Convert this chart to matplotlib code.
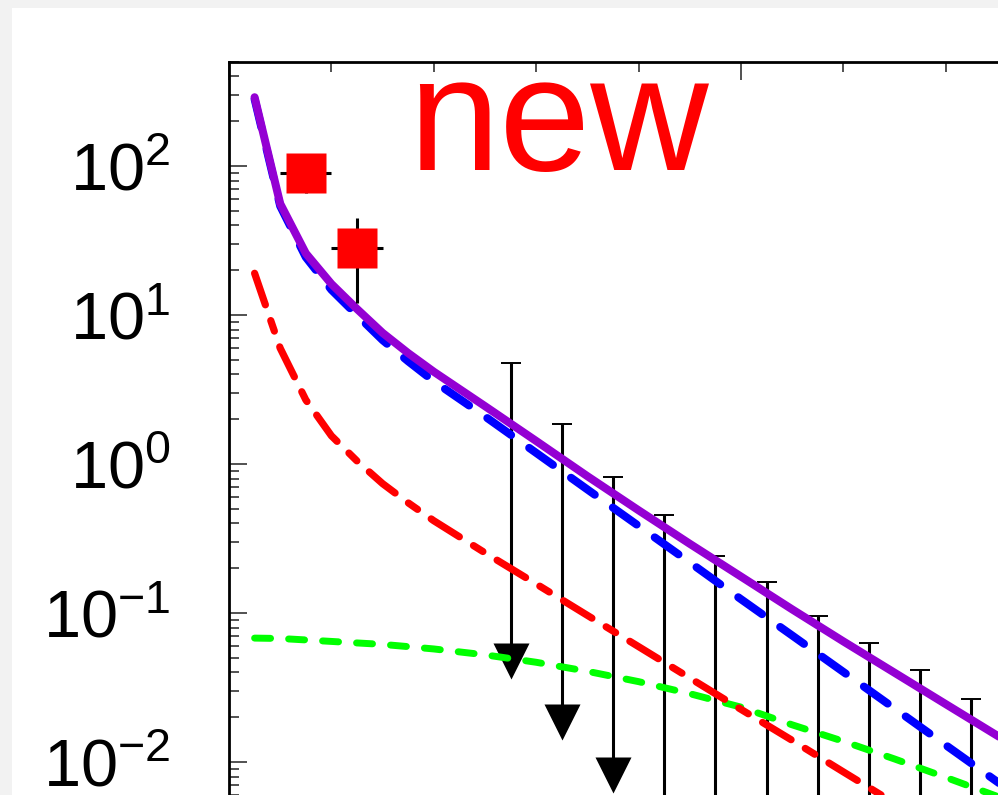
import matplotlib
matplotlib.use("Agg")
from matplotlib import pyplot as plt
from matplotlib.patches import Rectangle
from matplotlib.ticker import LogLocator, MultipleLocator, NullFormatter
import numpy as np

plt.rcParams['font.family'] = ['Liberation Sans', 'DejaVu Sans']
plt.rcParams['mathtext.fontset'] = 'custom'
plt.rcParams['mathtext.rm'] = 'Liberation Sans'
plt.rcParams['mathtext.it'] = 'Liberation Sans:italic'
plt.rcParams['lines.scale_dashes'] = False

# model curves (x, y)
curve_x = [0.25, 0.5, 0.75, 1.0, 1.25, 1.5, 1.75, 2.0, 2.5, 3.0, 3.5, 4.0,
           4.5, 5.0, 5.5, 6.0, 6.5, 7.0, 7.5, 8.0]
total = [290, 56, 26, 16.2, 11.0, 7.6, 5.56, 4.17, 2.45, 1.43, 0.83, 0.49,
         0.292, 0.176, 0.106, 0.0646, 0.0398, 0.0245, 0.0151, 0.0093]
blue = [282, 54, 24.5, 14.8, 10.0, 6.8, 4.9, 3.6, 2.09, 1.19, 0.676, 0.385,
        0.219, 0.124, 0.0708, 0.0403, 0.0229, 0.0130, 0.0074, 0.0042]
red = [19.1, 6.0, 2.7, 1.55, 1.05, 0.74, 0.55, 0.417, 0.254, 0.157, 0.0966,
       0.0596, 0.0367, 0.0226, 0.0140, 0.0086, 0.0053, 0.00327, 0.00202, 0.00124]
green = [0.068, 0.0676, 0.0661, 0.0646, 0.0631, 0.0617, 0.0596, 0.0575,
         0.0525, 0.0468, 0.0407, 0.0347, 0.0288, 0.0234, 0.0178, 0.0138,
         0.0105, 0.0079, 0.0059, 0.0044]

# measured points
pts_x = [0.75, 1.25]
pts_y = [90, 28.4]
pts_yerr = [24, 16.3]
pts_xerr = [0.25, 0.25]

# upper limits
ul_x = [2.75, 3.25, 3.75, 4.25, 4.75, 5.25, 5.75, 6.25, 6.75, 7.25]
ul_top = [4.76, 1.86, 0.818, 0.455, 0.241, 0.161, 0.0955, 0.0629, 0.0414, 0.0265]
ul_drop = 0.01  # arrow length: two decades

W, H = 998, 795
fig = plt.figure(figsize=(W / 100, H / 100), dpi=100, facecolor='#f2f2f2')
fig.patches.append(Rectangle((12 / W, 0), 1, 1 - 8 / H, transform=fig.transFigure,
                             facecolor='white', edgecolor='none', zorder=-10))

# axes: left spine at x=229 px, top at y=62 px; the rest runs off the picture
xmin, xmax = 0, 10
ymin, ymax = 2e-3, 500
px_per_x = 102.4
px_per_dec = 149
ax_w = (xmax - xmin) * px_per_x
ax_h = (np.log10(ymax) - np.log10(ymin)) * px_per_dec
ax = fig.add_axes([229 / W, 1 - (62 + ax_h) / H, ax_w / W, ax_h / H])
ax.set_facecolor('none')
ax.set_yscale('log')
ax.set_xlim(xmin, xmax)
ax.set_ylim(ymin, ymax)

ul_bot = [v * ul_drop for v in ul_top]
ax.vlines(ul_x, ul_bot, ul_top, color='black', lw=2.2, zorder=2)
ax.plot(ul_x, ul_top, linestyle='none', marker='_', ms=14, mew=1.4,
        color='black', zorder=2)
ax.plot(ul_x, ul_bot, linestyle='none', marker='v', ms=25.5, color='black',
        mec='none', zorder=2)

ax.plot(curve_x, green, color='#00ff00', lw=5, linestyle=(0, (11.5, 13)),
        dash_capstyle='round', zorder=3)
ax.plot(curve_x, red, color='#ff0000', lw=5.2, linestyle=(0, (24, 12, 8, 12)),
        dash_capstyle='round', zorder=3)
ax.plot(curve_x, blue, color='#0000ff', lw=5.8, linestyle=(0, (21, 16)),
        dash_capstyle='round', zorder=3)
ax.plot(curve_x, total, color='#9400d3', lw=5.8, solid_capstyle='round',
        solid_joinstyle='round', zorder=4)

ax.errorbar(pts_x, pts_y, yerr=pts_yerr, xerr=pts_xerr, fmt='none',
            ecolor='black', elinewidth=2.2, capsize=0, zorder=5)
ax.plot(pts_x, pts_y, linestyle='none', marker='s', ms=29.5, color='#ff0000',
        mec='none', zorder=6)

for side in ax.spines.values():
    side.set_linewidth(2)
ax.xaxis.set_major_locator(MultipleLocator(5))
ax.xaxis.set_minor_locator(MultipleLocator(1))
ax.yaxis.set_major_locator(LogLocator(base=10, numticks=20))
ax.yaxis.set_minor_locator(LogLocator(base=10, subs=np.arange(2, 10), numticks=20))
ax.yaxis.set_minor_formatter(NullFormatter())
ax.tick_params(which='both', direction='in', top=True, right=True, width=1.1,
               color='#222222', labelbottom=False)
ax.tick_params(which='major', length=13)
ax.tick_params(which='minor', length=7)
ax.tick_params(axis='y', which='major', labelsize=48, pad=42)

fig.text(408 / W, 1 - 170 / H, 'new', color='#ff0000', fontsize=118,
         va='baseline', ha='left')

fig.savefig('out.png', dpi=100, facecolor=fig.get_facecolor())
